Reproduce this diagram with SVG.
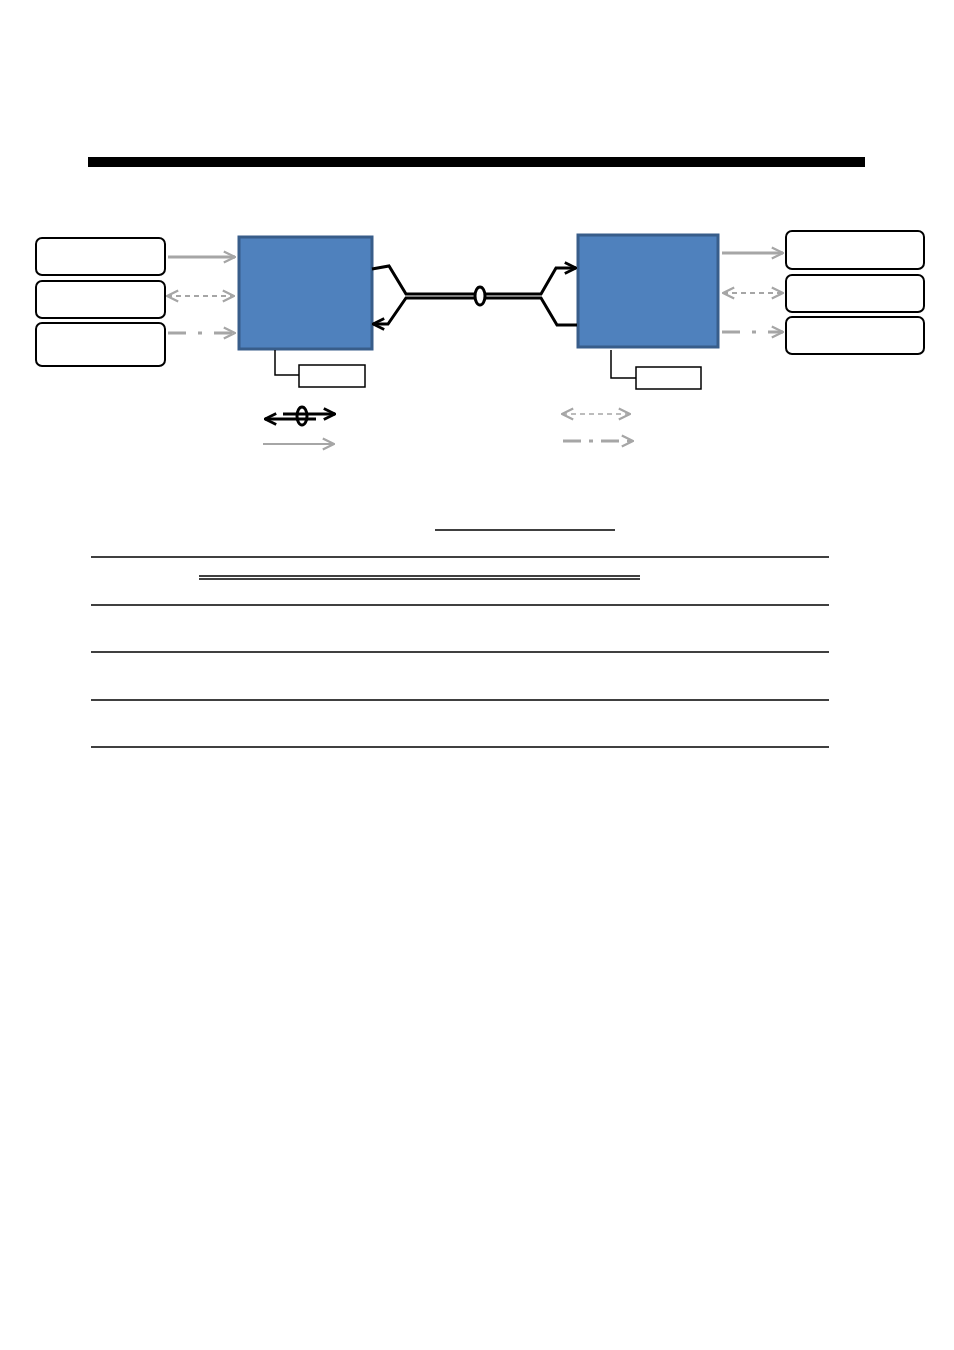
<svg xmlns="http://www.w3.org/2000/svg" width="954" height="1350" viewBox="0 0 954 1350">
<style>
.box{fill:#fff;stroke:#000;stroke-width:2}
.blue{fill:#4F81BD;stroke:#385D8A;stroke-width:3}
.g{fill:none;stroke:#A6A6A6;stroke-width:3}
.gd{fill:none;stroke:#A6A6A6;stroke-width:2;stroke-dasharray:5 4}
.gdd{fill:none;stroke:#A6A6A6;stroke-width:3;stroke-dasharray:18 12 4 12}
.k{fill:none;stroke:#000;stroke-width:3}
.t{stroke:#000;stroke-width:1.5}
</style>
<defs>
<marker id="ga" viewBox="0 0 10 10" refX="9" refY="5" markerWidth="6" markerHeight="6" markerUnits="userSpaceOnUse" orient="auto-start-reverse"><path d="M1,1 L9,5 L1,9" fill="none" stroke="#A6A6A6" stroke-width="1.8"/></marker>
<marker id="gb" viewBox="0 0 10 10" refX="9" refY="5" markerWidth="14" markerHeight="14" markerUnits="userSpaceOnUse" orient="auto-start-reverse"><path d="M1,1 L9,5 L1,9" fill="none" stroke="#A6A6A6" stroke-width="1.6"/></marker>
<marker id="ka" viewBox="0 0 10 10" refX="9" refY="5" markerWidth="14" markerHeight="14" markerUnits="userSpaceOnUse" orient="auto-start-reverse"><path d="M1,1 L9,5 L1,9" fill="none" stroke="#000" stroke-width="2"/></marker>
</defs>
<rect x="88" y="157" width="777" height="10" fill="#000"/>
<g id="L1"><rect class="box" x="36" y="238" width="129" height="37" rx="6"/></g>
<g id="L2"><rect class="box" x="36" y="281" width="129" height="37" rx="6"/></g>
<g id="L3"><rect class="box" x="36" y="323" width="129" height="43" rx="6"/></g>
<g id="A"><rect class="blue" x="239" y="237" width="133" height="112"/></g>
<g id="B"><rect class="blue" x="578" y="235" width="140" height="112"/></g>
<g id="R1"><rect class="box" x="786" y="231" width="138" height="38" rx="6"/></g>
<g id="R2"><rect class="box" x="786" y="275" width="138" height="37" rx="6"/></g>
<g id="R3"><rect class="box" x="786" y="317" width="138" height="37" rx="6"/></g>
<g id="SA"><rect x="299" y="365" width="66" height="22" fill="#fff" stroke="#000" stroke-width="1.5"/></g>
<g id="SB"><rect x="636" y="367" width="65" height="22" fill="#fff" stroke="#000" stroke-width="1.5"/></g>
<g id="connectors">
<path class="g" d="M168,257 H235" marker-end="url(#gb)"/>
<path class="gd" d="M167,296 H234" marker-start="url(#gb)" marker-end="url(#gb)"/>
<path class="gdd" d="M168,333 H235" marker-end="url(#gb)"/>
<path class="g" d="M722,253 H783" marker-end="url(#gb)"/>
<path class="gd" d="M723,293 H783" marker-start="url(#gb)" marker-end="url(#gb)"/>
<path class="gdd" d="M722,332 H783" marker-end="url(#gb)"/>
<path d="M275,350 V375 H299" fill="none" stroke="#000" stroke-width="1.5"/>
<path d="M611,350 V378 H636" fill="none" stroke="#000" stroke-width="1.5"/>
<path class="k" d="M372,269 L389,266 L406,294 H541 L556,268 H576" marker-end="url(#ka)"/>
<path class="k" d="M577,325 H557 L541,298 H406 L388,324 H373" marker-end="url(#ka)"/>
<ellipse cx="480" cy="296" rx="5" ry="9" fill="#fff" stroke="#000" stroke-width="3"/>
<path class="k" d="M283,414 H335" marker-end="url(#ka)"/>
<path class="k" d="M316,419 H265" marker-end="url(#ka)"/>
<ellipse cx="302" cy="416" rx="5" ry="9" fill="none" stroke="#000" stroke-width="3"/>
<path d="M263,444 H334" fill="none" stroke="#A6A6A6" stroke-width="2" marker-end="url(#gb)"/>
<path d="M562,414 H630" fill="none" stroke="#A6A6A6" stroke-width="1.5" stroke-dasharray="5 4" marker-start="url(#gb)" marker-end="url(#gb)"/>
<path d="M563,441 H633" fill="none" stroke="#A6A6A6" stroke-width="3" stroke-dasharray="18 8 4 8" marker-end="url(#gb)"/>
</g>
<line class="t" x1="435" y1="530" x2="615" y2="530"/>
<line class="t" x1="91" y1="557" x2="829" y2="557"/>
<line class="t" x1="199" y1="576" x2="640" y2="576"/>
<line class="t" x1="199" y1="579" x2="640" y2="579"/>
<line class="t" x1="91" y1="605" x2="829" y2="605"/>
<line class="t" x1="91" y1="652" x2="829" y2="652"/>
<line class="t" x1="91" y1="700" x2="829" y2="700"/>
<line class="t" x1="91" y1="747" x2="829" y2="747"/>
</svg>
